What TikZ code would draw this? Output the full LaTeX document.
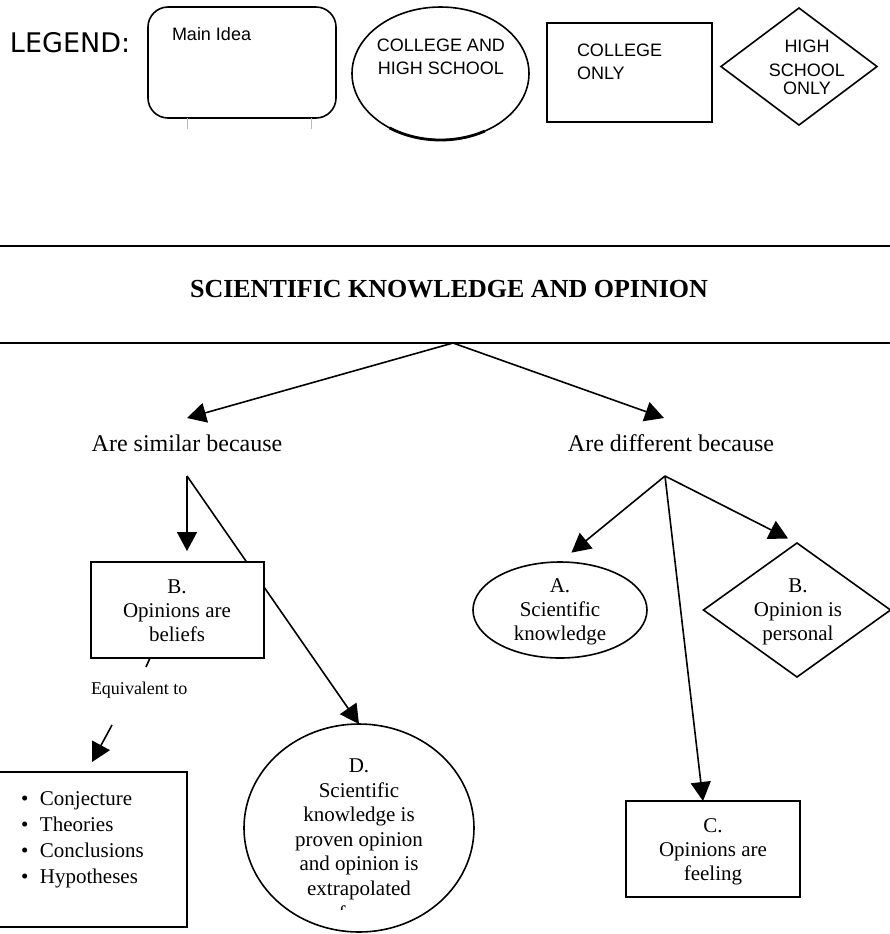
\documentclass[tikz,border=0pt]{standalone}
\usepackage{fontspec}
\setmainfont{Liberation Serif}
\newfontfamily\arialf{Liberation Sans}
\newfontfamily\dejavuf{DejaVu Sans}
\usetikzlibrary{shapes.geometric,arrows.meta,backgrounds}
\begin{document}
\begin{tikzpicture}[x=0.5pt,y=-0.5pt,
  every node/.style={inner sep=0pt,outer sep=0pt},
  shp/.style={draw,line width=0.8pt,fill=white},
  bodytxt/.style={font=\fontsize{10.5}{12}\selectfont,align=center,anchor=base},
  lgtxt/.style={font=\arialf\fontsize{9}{11.25}\selectfont},
  conn/.style={line width=0.8pt},
  arr/.style={line width=0.8pt,-{Triangle[length=9.5pt,width=10pt]}},
  edgeline/.style={line width=1pt}
]
\useasboundingbox (0,0) rectangle (890,934);

% ---------- legend ----------
\node[font=\dejavuf\fontsize{13.5}{16}\selectfont,anchor=base west] (lgtitle) at (10,52) {LEGEND:};
\node[shp,rounded corners=10pt,minimum width=94pt,minimum height=55.5pt] (lgmain) at (242,62.5) {};
\node[lgtxt,anchor=base west] (lgmaintxt) at (172,40) {Main Idea};
\draw[gray!55,line width=0.4pt] ([xshift=-27.5pt]lgmain.south) -- ++(0,11);
\draw[gray!55,line width=0.4pt] ([xshift=34.5pt]lgmain.south) -- ++(0,11);

\node[shp,ellipse,minimum width=88.5pt,minimum height=66.5pt] (lgell) at (440.5,73.5) {};
\draw[line width=1.4pt] ([shift={(235:44.25pt and 33.25pt)}]lgell.center)
  arc[start angle=235,end angle=300,x radius=44.25pt,y radius=33.25pt];
\node[lgtxt,align=center,anchor=base] (lgelltxt) at (441,74) {COLLEGE AND\\HIGH SCHOOL};

\node[shp,minimum width=82.5pt,minimum height=49.5pt] (lgrect) at (629.5,72.5) {};
\node[lgtxt,align=left,anchor=base west,font=\arialf\fontsize{9}{11.5}\selectfont] (lgrecttxt) at (577,79) {COLLEGE\\ONLY};

\node[shp,diamond,aspect=1.33,minimum width=78pt,minimum height=58.5pt] (lgdia) at (799,66.5) {};
\node[lgtxt,align=center,anchor=base,font=\arialf\fontsize{9}{9}\selectfont] (lgdiatxt) at (807,94) {HIGH\\[3pt]SCHOOL\\ONLY};

% ---------- title band ----------
\node[minimum width=445pt,minimum height=48.5pt] (tb) at (445,294.5) {};
\draw[edgeline] (tb.north west) -- (tb.north east);
\draw[edgeline] (tb.south west) -- (tb.south east);
\node[font=\bfseries\fontsize{13}{15}\selectfont] (title) at (449,289) {SCIENTIFIC KNOWLEDGE AND OPINION};
\coordinate (apex) at ([xshift=4pt]tb.south);

% ---------- second level ----------
\node[font=\fontsize{12}{14}\selectfont,anchor=base] (sim) at (187,451) {Are similar because};
\node[font=\fontsize{12}{14}\selectfont,anchor=base] (dif) at (671,451) {Are different because};
\coordinate (simTop) at (187,418);
\coordinate (difTop) at (664,418);
\coordinate (simHub) at (187,476);
\coordinate (difHub) at (665,476);
\draw[arr] (apex) -- (simTop);
\draw[arr] (apex) -- (difTop);

% ---------- left branch ----------
\node[shp,minimum width=86.5pt,minimum height=48pt] (b1) at (177.5,610) {};
\node[bodytxt] (b1txt) at (177,641) {B.\\Opinions are\\beliefs};

\node[shp,ellipse,minimum width=115pt,minimum height=104pt] (dcirc) at (359,828) {};
\node[bodytxt,font=\fontsize{10.5}{12.25}\selectfont] (dtxt) at (359,895)
  {D.\\Scientific\\knowledge is\\proven opinion\\and opinion is\\extrapolated};
\begin{scope}
  \clip (300,900) rectangle (420,909);
  \node[bodytxt] (dfrag) at (359,920) {from};
\end{scope}

\node[shp,minimum width=94.5pt,minimum height=77.5pt,anchor=north west] (lst) at (-2,772) {};
\node[font=\fontsize{10.5}{13}\selectfont,align=left,anchor=base west] (lsttxt) at (21,883)
  {\makebox[9.5pt][l]{•}Conjecture\\\makebox[9.5pt][l]{•}Theories\\\makebox[9.5pt][l]{•}Conclusions\\\makebox[9.5pt][l]{•}Hypotheses};

\node[font=\fontsize{9}{11}\selectfont,anchor=base west] (eq) at (91,694) {Equivalent to};
\coordinate (eqS) at ([xshift=-13.75pt]b1.south);
\coordinate (eqA) at (146,667);
\coordinate (eqB) at (112,725);
\coordinate (eqT) at (92,762);
\draw[conn] (eqS) -- (eqA);
\draw[arr] (eqB) -- (eqT);

\draw[arr,shorten >=5.5pt] (simHub) -- (simHub |- b1.north);
\begin{pgfonlayer}{background}
  \draw[arr] (simHub) -- (dcirc.north);
\end{pgfonlayer}

% ---------- right branch ----------
\node[shp,ellipse,minimum width=87pt,minimum height=48pt] (a1) at (560,610) {};
\node[bodytxt] (a1txt) at (560,640) {A.\\Scientific\\knowledge};

\node[shp,diamond,aspect=1.4,minimum width=93.5pt,minimum height=67pt] (b2) at (797,610) {};
\node[bodytxt] (b2txt) at (798,640) {B.\\Opinion is\\personal};

\node[shp,minimum width=87pt,minimum height=48pt] (c1) at (713,849) {};
\node[bodytxt] (c1txt) at (713,880) {C.\\Opinions are\\feeling};

\draw[arr,shorten >=7.4pt] (difHub) -- (a1.north);
\draw[arr,shorten >=5pt] (difHub) -- (b2.north);
\draw[arr] (difHub) -- ([xshift=-5pt]c1.north);
\end{tikzpicture}
\end{document}
